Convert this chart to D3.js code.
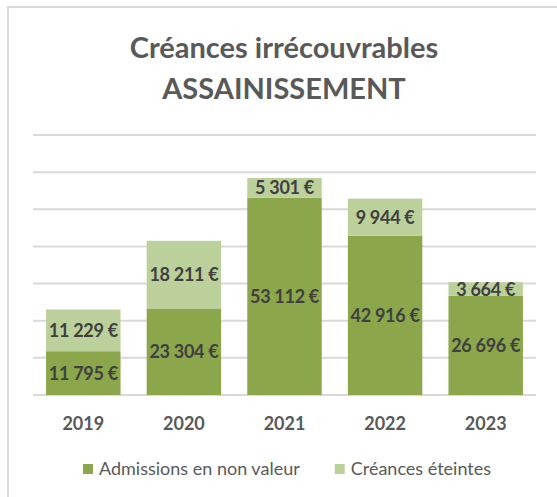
<!DOCTYPE html>
<html>
<head>
<meta charset="utf-8">
<script src="https://cdn.jsdelivr.net/npm/d3@7"></script>
<style>
  body { margin: 0; background: #fff; }
  svg text { font-family: Lato, "Noto Sans", sans-serif; }
</style>
</head>
<body>
<svg id="chart" width="557" height="497"></svg>
<script>
// DATA //////////////////////////////////////////////////////////////////
const years = ["2019", "2020", "2021", "2022", "2023"];
const admissions = [11795, 23304, 53112, 42916, 26696];   // Admissions en non valeur
const eteintes = [11229, 18211, 5301, 9944, 3664];        // Créances éteintes
const seriesNames = ["Admissions en non valeur", "Créances éteintes"];
const yTicks = [0, 10000, 20000, 30000, 40000, 50000, 60000, 70000];
const titleLines = ["Créances irrécouvrables", "ASSAINISSEMENT"];

const COLOURS = ["#8ba64b", "#bbd09a"];

// SETUP /////////////////////////////////////////////////////////////////
const svg = d3.select("#chart");

const PLOT_LEFT = 33, PLOT_RIGHT = 536, PLOT_TOP = 135, PLOT_BOTTOM = 395;

// outer chart border (only top and left visible)
svg.append("rect")
    .attr("x", 8).attr("y", 7)
    .attr("width", 700).attr("height", 700)
    .attr("fill", "none")
    .attr("stroke", "#d9d9d9")
    .attr("stroke-width", 2);

// title
svg.append("g")
    .selectAll("text")
    .data(titleLines)
    .enter().append("text")
    .attr("x", 284)
    .attr("y", function (d, i) { return 58 + i * 41; })
    .attr("text-anchor", "middle")
    .style("font-size", "29px")
    .style("font-weight", "700")
    .style("fill", "#595959")
    .text(function (d) { return d; });

// scales
const x = d3.scaleBand()
    .domain(years)
    .range([PLOT_LEFT, PLOT_RIGHT])
    .paddingInner(0.26)
    .paddingOuter(0.13);

const y = d3.scaleLinear()
    .domain([0, 70000])
    .range([PLOT_BOTTOM, PLOT_TOP]);

const fmt = d3.formatLocale({ decimal: ",", thousands: "\u00a0", grouping: [3], currency: ["", "\u00a0€"] }).format("$,.0f");

// gridlines
svg.append("g")
    .selectAll("line")
    .data(yTicks)
    .enter().append("line")
    .attr("x1", PLOT_LEFT).attr("x2", PLOT_RIGHT)
    .attr("y1", function (d) { return y(d); })
    .attr("y2", function (d) { return y(d); })
    .attr("stroke", "#d9d9d9")
    .attr("stroke-width", 2);

// stack the data
const table = years.map(function (yr, i) {
    return { year: yr, a: admissions[i], e: eteintes[i] };
});
const stacked = d3.stack().keys(["a", "e"])(table);

const layers = svg.append("g")
    .selectAll("g")
    .data(stacked)
    .enter().append("g")
    .attr("fill", function (d, i) { return COLOURS[i]; });

layers.selectAll("rect")
    .data(function (d) { return d; })
    .enter().append("rect")
    .attr("x", function (d) { return x(d.data.year); })
    .attr("y", function (d) { return y(d[1]); })
    .attr("width", x.bandwidth())
    .attr("height", function (d) { return y(d[0]) - y(d[1]); });

// value labels
layers.selectAll("text")
    .data(function (d) { return d; })
    .enter().append("text")
    .attr("x", function (d) { return x(d.data.year) + x.bandwidth() / 2; })
    .attr("y", function (d) { return (y(d[0]) + y(d[1])) / 2; })
    .attr("dy", "0.36em")
    .attr("text-anchor", "middle")
    .style("font-size", "18px")
    .style("font-weight", "700")
    .style("letter-spacing", "-0.3px")
    .style("fill", "#404040")
    .text(function (d) { return fmt(d[1] - d[0]); });

// x axis labels
const xAxis = svg.append("g")
    .attr("transform", "translate(0," + PLOT_BOTTOM + ")")
    .call(d3.axisBottom(x).tickSize(0).tickPadding(22));
xAxis.select(".domain").remove();
xAxis.selectAll("text")
    .style("font-family", "Lato, sans-serif")
    .style("font-size", "18px")
    .style("font-weight", "700")
    .style("fill", "#595959");

// legend
const legend = svg.append("g");
const items = legend.selectAll("g")
    .data(seriesNames)
    .enter().append("g");
items.append("rect")
    .attr("width", 10).attr("height", 10)
    .attr("y", -11)
    .attr("fill", function (d, i) { return COLOURS[i]; });
items.append("text")
    .attr("x", 16)
    .attr("y", 0)
    .style("font-size", "18px")
    .style("fill", "#595959")
    .text(function (d) { return d; });

const widths = [];
items.each(function () {
    widths.push(this.querySelector("text").getComputedTextLength() + 16);
});
const total = widths[0] + 35 + widths[1];
const start = 287 - total / 2;
items.attr("transform", function (d, i) {
    const tx = start + (i === 0 ? 0 : widths[0] + 35);
    return "translate(" + tx + ",475)";
});
</script>
</body>
</html>
